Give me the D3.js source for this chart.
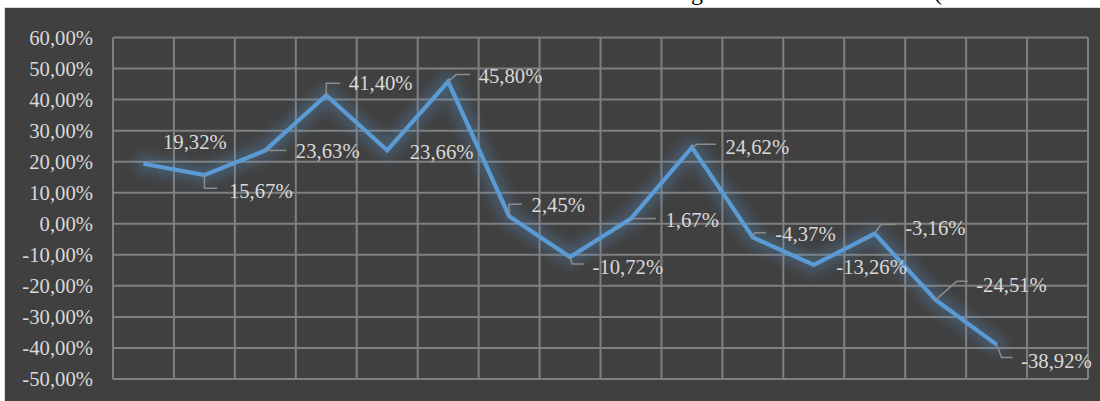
<!DOCTYPE html>
<html><head><meta charset="utf-8">
<script src="https://cdn.jsdelivr.net/npm/d3@7/dist/d3.min.js"></script>
<style>
html,body{margin:0;padding:0;background:#fff;}
svg{display:block;}
</style></head>
<body>
<svg id="chart" width="1100" height="401" font-family="'Liberation Serif', 'Times New Roman', 'DejaVu Serif', serif"></svg>
<script>
// ---- data ----
const categories = ["1","2","3","4","5","6","7","8","9","10","11","12","13","14","15","16"];
const values = [19.32, 15.67, 23.63, 41.40, 23.66, 45.80, 2.45, -10.72, 1.67, 24.62, -4.37, -13.26, -3.16, -24.51, -38.92];
const labels = ["19,32%","15,67%","23,63%","41,40%","23,66%","45,80%","2,45%","-10,72%","1,67%","24,62%","-4,37%","-13,26%","-3,16%","-24,51%","-38,92%"];
const yTicks = [60,50,40,30,20,10,0,-10,-20,-30,-40,-50];
const yTickLabels = ["60,00%","50,00%","40,00%","30,00%","20,00%","10,00%","0,00%","-10,00%","-20,00%","-30,00%","-40,00%","-50,00%"];
const titleParts = ["Biến đổi doanh thu tháng", "("];

// ---- label layout (offsets relative to each point; style only) ----
const labelLayout = [
  {dx:19.5, dy:-21.7, leader:null},
  {dx:24.5, dy:16, leader:[[0,0],[0,13],[13,13]]},
  {dx:30.5, dy:0.7, leader:[[0,0],[21,0]]},
  {dx:22.5, dy:-12, leader:[[0,0],[0,-12],[14,-12]]},
  {dx:22.5, dy:1, leader:null},
  {dx:30.5, dy:-5.5, leader:[[0,0],[8,-7],[22,-7]]},
  {dx:22.5, dy:-11, leader:[[0,0],[0,-12],[13,-12]]},
  {dx:22.5, dy:9.7, leader:[[0,0],[2,7],[14,7]]},
  {dx:34.5, dy:1.5, leader:[[0,0],[25,0]]},
  {dx:33.5, dy:-0.6, leader:[[0,0],[5,-3],[24,-3]]},
  {dx:22.5, dy:-3.3, leader:[[0,0],[2,-4.5],[13,-4.5]]},
  {dx:22.5, dy:2, leader:null},
  {dx:30.5, dy:-5.8, leader:[[0,0],[6,-9],[21,-9]]},
  {dx:40.5, dy:-15.5, leader:[[0,0],[21,-18.5],[32,-18.5]]},
  {dx:24.5, dy:16.5, leader:[[0,0],[5,13],[16,13]]}
];

const svg = d3.select("#chart");
const W = 1100, H = 401;
const plot = {left:113, right:1088, top:37.5, bottom:379};
const FONT = "'Liberation Serif', 'Times New Roman', 'DejaVu Serif', serif";

// title (mostly cut off above the picture)
svg.append("text").attr("x",703).attr("y",0).attr("text-anchor","end")
  .attr("font-family",FONT).attr("font-size",24).attr("fill","#000").text(titleParts[0]);
svg.append("text").attr("x",934).attr("y",0).attr("text-anchor","start")
  .attr("font-family",FONT).attr("font-size",24).attr("fill","#000").text(titleParts[1]);

// background
svg.append("rect").attr("x",4.5).attr("y",7.5).attr("width",W).attr("height",H)
  .attr("fill","#404040").attr("stroke","#d9d9d9").attr("stroke-width",1);

const x = d3.scaleBand().domain(categories).range([plot.left, plot.right]).padding(0);
const y = d3.scaleLinear().domain([-50,60]).range([plot.bottom, plot.top]);

const grid = svg.append("g").attr("stroke","#7f7f7f").attr("stroke-width",2);
grid.selectAll("line.h").data(yTicks).join("line")
  .attr("x1",plot.left).attr("x2",plot.right)
  .attr("y1",d=>y(d)).attr("y2",d=>y(d));
const bounds = categories.map(c=>x(c)).concat([plot.right]);
grid.selectAll("line.v").data(bounds).join("line")
  .attr("x1",d=>d).attr("x2",d=>d)
  .attr("y1",plot.top).attr("y2",plot.bottom);

// y axis labels
svg.append("g").selectAll("text").data(yTicks).join("text")
  .attr("x",93).attr("y",d=>y(d)).attr("dy","0.35em")
  .attr("text-anchor","end").attr("font-family",FONT).attr("font-size",20.7).attr("fill","#d9d9d9")
  .text((d,i)=>yTickLabels[i]);

// line
const pts = values.map((v,i)=>[x(categories[i]) + x.bandwidth()/2, y(v)]);
const line = d3.line();

const defs = svg.append("defs");
const f = defs.append("filter").attr("id","glow").attr("x","-20%").attr("y","-20%").attr("width","140%").attr("height","140%");
f.append("feGaussianBlur").attr("stdDeviation",6);

svg.append("path").attr("d",line(pts)).attr("fill","none")
  .attr("stroke","#5b9bd5").attr("stroke-opacity",0.28).attr("stroke-width",18)
  .attr("stroke-linejoin","round").attr("stroke-linecap","round")
  .attr("filter","url(#glow)");
svg.append("path").attr("d",line(pts)).attr("fill","none")
  .attr("stroke","#5b9bd5").attr("stroke-width",4.2)
  .attr("stroke-linejoin","miter").attr("stroke-linecap","butt");

// leaders
const lg = svg.append("g").attr("fill","none").attr("stroke","#8c8c8c").attr("stroke-width",1.5);
pts.forEach((p,i)=>{
  const L = labelLayout[i].leader;
  if(!L) return;
  lg.append("path").attr("d", d3.line()(L.map(q=>[p[0]+q[0], p[1]+q[1]])));
});

// data labels
svg.append("g").selectAll("text").data(pts).join("text")
  .attr("x",(p,i)=>p[0]+labelLayout[i].dx)
  .attr("y",(p,i)=>p[1]+labelLayout[i].dy)
  .attr("dy","0.35em").attr("font-family",FONT).attr("font-size",20.7).attr("fill","#d9d9d9")
  .text((p,i)=>labels[i]);
</script>
</body></html>
